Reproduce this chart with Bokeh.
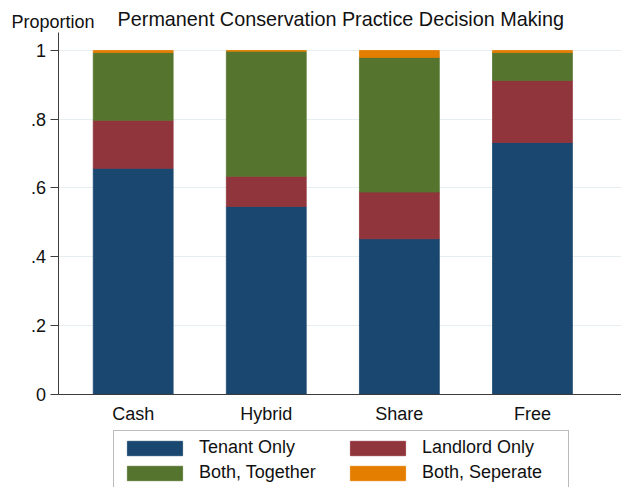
from bokeh.plotting import figure
from bokeh.models import ColumnDataSource, Range1d, FixedTicker, Legend, LegendItem, Label
from bokeh.embed import file_html
from bokeh.resources import INLINE

# ---- data ----
categories = ["Cash", "Hybrid", "Share", "Free"]
tenant_only = [0.657, 0.546, 0.452, 0.732]
landlord_only = [0.140, 0.088, 0.136, 0.181]
both_together = [0.197, 0.364, 0.392, 0.081]
both_separate = [0.006, 0.002, 0.020, 0.006]
series_labels = ["Tenant Only", "Landlord Only", "Both, Together", "Both, Seperate"]
y_ticks = [0, 0.2, 0.4, 0.6, 0.8, 1]
y_tick_labels = ["0", ".2", ".4", ".6", ".8", "1"]
title_text = "Permanent Conservation Practice Decision Making"
y_title = "Proportion"

# ---- styles / layout ----
FONT = "Liberation Sans"
colors = ["#1a476f", "#90353b", "#55752f", "#e37e00"]
keys = ["tenant", "landlord", "together", "separate"]
axis_color = "#3c3c3c"
text_color = "#111111"
W, H = 621, 487
X0, X1 = -0.997, 3.669          # visible x range (category index units)
Y0, Y1 = -0.2722, 1.1456        # visible y range
AX_X = -0.5575                  # where the y axis sits
AX_TOP = 1.0524                 # top of the y axis line

x_pos = list(range(len(categories)))
source = ColumnDataSource(dict(x=x_pos, tenant=tenant_only, landlord=landlord_only,
                               together=both_together, separate=both_separate))

p = figure(width=W, height=H, output_backend="svg", toolbar_location=None,
           x_range=Range1d(X0, X1), y_range=Range1d(Y0, Y1), min_border=0)
p.title = None
p.outline_line_color = None
p.background_fill_color = "white"
p.border_fill_color = "white"

renderers = p.vbar_stack(keys, x="x", width=0.6, source=source,
                         fill_color=colors, line_color=colors, line_width=0.8)

# y axis (fixed inside the frame)
p.yaxis.fixed_location = AX_X
p.yaxis.bounds = (0, AX_TOP)
p.yaxis.ticker = FixedTicker(ticks=y_ticks)
p.yaxis.major_label_overrides = {t: l for t, l in zip(y_ticks, y_tick_labels)}
p.yaxis.axis_line_color = axis_color
p.yaxis.major_tick_line_color = axis_color
p.yaxis.major_tick_out = 8
p.yaxis.major_tick_in = 0
p.yaxis.minor_tick_line_color = None
p.yaxis.major_label_standoff = 5
p.yaxis.major_label_text_font = FONT
p.yaxis.major_label_text_font_size = "18px"
p.yaxis.major_label_text_color = text_color

# x axis (fixed at y = 0)
p.xaxis.fixed_location = 0
p.xaxis.bounds = (AX_X, X1)
p.xaxis.ticker = FixedTicker(ticks=x_pos)
p.xaxis.major_label_overrides = {i: c for i, c in zip(x_pos, categories)}
p.xaxis.axis_line_color = axis_color
p.xaxis.major_tick_line_color = None
p.xaxis.major_tick_out = 0
p.xaxis.major_tick_in = 0
p.xaxis.minor_tick_line_color = None
p.xaxis.major_label_standoff = 10
p.xaxis.major_label_text_font = FONT
p.xaxis.major_label_text_font_size = "18px"
p.xaxis.major_label_text_color = text_color

# grid
p.xgrid.grid_line_color = None
p.ygrid.ticker = FixedTicker(ticks=y_ticks)
p.ygrid.cross_bounds = (AX_X, X1)
p.ygrid.grid_line_color = "#e6eef2"
p.ygrid.grid_line_width = 1

# titles
p.add_layout(Label(x=340.3, y=H - 18.5, x_units="screen", y_units="screen", text=title_text,
                   text_align="center", text_baseline="alphabetic",
                   text_font=FONT, text_font_size="19.8px", text_color=text_color))
p.add_layout(Label(x=11, y=H - 21.5, x_units="screen", y_units="screen", text=y_title,
                   text_align="left", text_baseline="alphabetic",
                   text_font=FONT, text_font_size="18px", text_color=text_color))

# legend
items = [LegendItem(label=series_labels[i], renderers=[renderers[i]]) for i in range(4)]
legend = Legend(items=items, location=(113, -3), orientation="horizontal", ncols=2,
                glyph_width=69, glyph_height=18, label_standoff=10, label_width=140,
                label_height=21, spacing=4, padding=6, margin=0,
                border_line_color="#777777", border_line_width=1,
                background_fill_color="white", background_fill_alpha=1,
                label_text_font=FONT, label_text_font_size="18px", label_text_color=text_color)
p.add_layout(legend, "center")

open("out.html", "w").write(file_html(p, INLINE))
